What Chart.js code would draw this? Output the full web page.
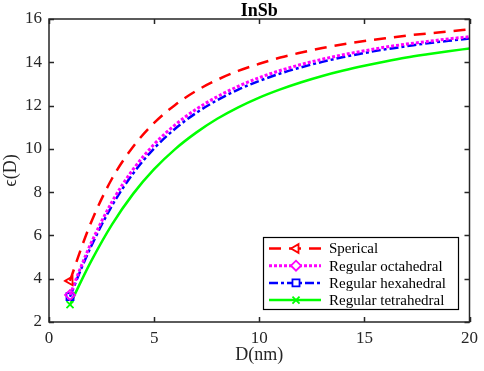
<!DOCTYPE html>
<html>
<head>
<meta charset="utf-8">
<script src="https://cdn.jsdelivr.net/npm/chart.js@4.4.0/dist/chart.umd.min.js"></script>
<style>
  html, body { margin: 0; padding: 0; background: #fff; }
  #wrap { width: 484px; height: 371px; }
</style>
</head>
<body>
<div id="wrap"><canvas id="chart" width="484" height="371"></canvas></div>
<script>
// D (nm) sample points and epsilon(D) for each shape
const dValues = [1, 1.5, 2, 3, 4, 5, 6, 7, 8, 9, 10, 11, 12, 13, 14, 15, 16, 17, 18, 19, 20];
const sperical = [3.9, 5.32, 6.60, 8.63, 10.10, 11.20, 12.03, 12.68, 13.19, 13.60, 13.93, 14.22, 14.45, 14.66, 14.83, 14.98, 15.11, 15.23, 15.33, 15.42, 15.52];
const octahedral = [3.25, 4.50, 5.64, 7.56, 9.05, 10.21, 11.11, 11.83, 12.41, 12.89, 13.29, 13.62, 13.90, 14.14, 14.35, 14.53, 14.70, 14.84, 14.96, 15.08, 15.18];
const hexahedral = [3.17, 4.38, 5.49, 7.38, 8.86, 10.02, 10.93, 11.66, 12.25, 12.74, 13.14, 13.48, 13.77, 14.02, 14.24, 14.43, 14.60, 14.74, 14.88, 14.99, 15.10];
const tetrahedral = [2.80, 3.83, 4.80, 6.51, 7.92, 9.06, 9.99, 10.75, 11.39, 11.92, 12.37, 12.75, 13.08, 13.37, 13.62, 13.84, 14.04, 14.22, 14.37, 14.51, 14.64];

const seriesNames = ['Sperical', 'Regular octahedral', 'Regular hexahedral', 'Regular tetrahedral'];
const xTicks = [0, 5, 10, 15, 20];
const yTicks = [2, 4, 6, 8, 10, 12, 14, 16];
const chartTitle = 'InSb';

const serif = "'Liberation Serif', 'DejaVu Serif', serif";
const axisColor = '#262626';

function toPoints(ys) {
  return ys.map((y, i) => ({ x: dValues[i], y: y }));
}

// marker only on the first point, like MATLAB MarkerIndices
const firstOnly = (r) => (ctx) => (ctx.dataIndex === 0 ? r : 0);

function makeSet(label, values, color, dash, width, style, rot) {
  return {
    label: label,
    data: toPoints(values),
    borderColor: color,
    backgroundColor: 'rgba(0,0,0,0)',
    borderWidth: width,
    borderDash: dash,
    pointStyle: style,
    pointRotation: rot,
    pointRadius: firstOnly(5),
    pointBorderWidth: 1.8,
    pointBorderColor: color,
    pointBackgroundColor: 'rgba(0,0,0,0)',
    cubicInterpolationMode: 'monotone',
    fill: false,
  };
}

const datasets = [
  makeSet(seriesNames[0], sperical, '#ff0000', [12, 8], 2.5, 'triangle', -90),
  makeSet(seriesNames[1], octahedral, '#ff00ff', [3, 2], 3, 'rectRot', 0),
  makeSet(seriesNames[2], hexahedral, '#0000ff', [9, 3, 3, 3], 2.5, 'rect', 0),
  makeSet(seriesNames[3], tetrahedral, '#00ff00', [], 2.5, 'crossRot', 0),
];

// title over the axes, box with inward ticks, legend box in the lower right
const matlabBox = {
  id: 'matlabBox',
  afterDraw(chart) {
    const { ctx, chartArea, scales } = chart;
    const { left, right, top, bottom } = chartArea;
    ctx.save();
    ctx.fillStyle = '#000';
    ctx.font = 'bold 18px ' + serif;
    ctx.textAlign = 'center';
    ctx.textBaseline = 'middle';
    ctx.fillText(chartTitle, (left + right) / 2, top - 8);

    ctx.strokeStyle = axisColor;
    ctx.lineWidth = 1.5;
    ctx.strokeRect(left, top, right - left, bottom - top);
    ctx.beginPath();
    xTicks.forEach(v => {
      const px = Math.round(scales.x.getPixelForValue(v)) + 0.5;
      ctx.moveTo(px, bottom); ctx.lineTo(px, bottom - 5);
      ctx.moveTo(px, top); ctx.lineTo(px, top + 5);
    });
    yTicks.forEach(v => {
      const py = Math.round(scales.y.getPixelForValue(v)) + 0.5;
      ctx.moveTo(left, py); ctx.lineTo(left + 5, py);
      ctx.moveTo(right, py); ctx.lineTo(right - 5, py);
    });
    ctx.stroke();

    // legend
    const lx = 263, ly = 237, lw = 195, lh = 72;
    ctx.fillStyle = '#fff';
    ctx.fillRect(lx, ly, lw, lh);
    ctx.strokeStyle = '#000';
    ctx.lineWidth = 1.2;
    ctx.strokeRect(lx + 0.5, ly + 0.5, lw, lh);
    ctx.font = '15px ' + serif;
    ctx.textBaseline = 'middle';
    ctx.textAlign = 'left';
    chart.data.datasets.forEach((ds, i) => {
      const cy = ly + 11.5 + i * 17.2;
      ctx.strokeStyle = ds.borderColor;
      ctx.lineWidth = ds.borderWidth;
      ctx.setLineDash(ds.borderDash);
      ctx.beginPath();
      ctx.moveTo(lx + 6, cy);
      ctx.lineTo(lx + 58, cy);
      ctx.stroke();
      ctx.setLineDash([]);
      ctx.lineWidth = 1.8;
      ctx.fillStyle = '#fff';
      if (Chart.helpers && Chart.helpers.drawPoint) {
        Chart.helpers.drawPoint(ctx, {
          pointStyle: ds.pointStyle, rotation: ds.pointRotation, radius: 5, borderWidth: 1.8
        }, lx + 33, cy);
      }
      ctx.fillStyle = '#000';
      ctx.fillText(ds.label, lx + 66, cy + 1);
    });
    ctx.restore();
  }
};

new Chart(document.getElementById('chart'), {
  type: 'line',
  data: { datasets: datasets },
  plugins: [matlabBox],
  options: {
    responsive: false,
    animation: false,
    devicePixelRatio: 1,
    layout: { padding: { left: 0, right: 11, top: 19, bottom: 0 } },
    plugins: {
      legend: { display: false },
      tooltip: { enabled: false },
      title: { display: false },
    },
    scales: {
      x: {
        type: 'linear',
        min: 0,
        max: 20,
        afterBuildTicks: (s) => { s.ticks = xTicks.map(v => ({ value: v })); },
        afterFit: (s) => { s.height = 49; },
        grid: { display: false, drawTicks: false },
        border: { display: false },
        ticks: { color: axisColor, padding: 6, font: { family: serif, size: 17 } },
        title: {
          display: true,
          text: 'D(nm)',
          color: axisColor,
          font: { family: serif, size: 18 },
          padding: { top: 0, bottom: 5 },
        },
      },
      y: {
        type: 'linear',
        min: 2,
        max: 16,
        afterBuildTicks: (s) => { s.ticks = yTicks.map(v => ({ value: v })); },
        afterFit: (s) => { s.width = 49; },
        grid: { display: false, drawTicks: false },
        border: { display: false },
        ticks: { color: axisColor, padding: 7, font: { family: serif, size: 17 } },
        title: {
          display: true,
          text: 'ϵ(D)',
          color: axisColor,
          font: { family: serif, size: 18 },
          padding: { top: 0, bottom: 0 },
        },
      },
    },
  },
});
</script>
</body>
</html>
